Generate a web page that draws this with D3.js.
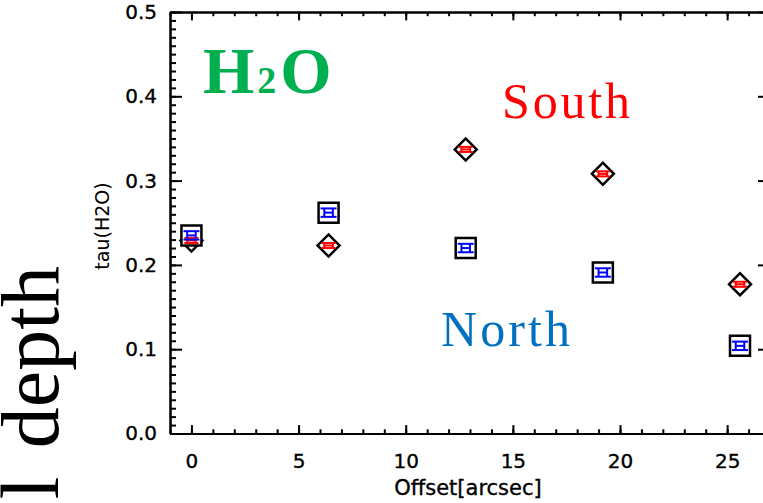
<!DOCTYPE html>
<html>
<head>
<meta charset="utf-8">
<script src="https://cdn.jsdelivr.net/npm/d3@7"></script>
<style>
    body { margin: 0; background: #fff; }
    .axis path, .axis line { stroke: #000; stroke-width: 2; }
    .axis text { font-family: "DejaVu Sans", sans-serif; font-size: 20px; fill: #000; stroke: #000; stroke-width: 0.35; }
</style>
</head>
<body>
<div id="chart"></div>
<script>

// values
let offsets   = [0, 6.4, 12.8, 19.2, 25.6];          // arcsec
let tauNorth  = [0.235, 0.262, 0.220, 0.191, 0.104];
let tauSouth  = [0.229, 0.223, 0.337, 0.308, 0.177];
let errNorth  = [0.005, 0.005, 0.005, 0.005, 0.005];
let errSouth  = [0.003, 0.003, 0.003, 0.003, 0.003];
let errOffset = [0.2, 0.2, 0.2, 0.2, 0.2];

let xTicks = [0, 5, 10, 15, 20, 25];
let yTicks = [0.0, 0.1, 0.2, 0.3, 0.4, 0.5];

let margin = {top: 12, left: 170};
let width = 600, height = 421.5;

let svg = d3.select("#chart").append("svg")
    .attr("width", 763)
    .attr("height", 503)
    .style("display", "block");

svg.append("rect").attr("width", 763).attr("height", 503).attr("fill", "#fff");

let g = svg.append("g")
    .attr("transform", "translate(" + margin.left + "," + margin.top + ")");

// scales
let x = d3.scaleLinear().domain([-1, 27]).range([0, width]);
let y = d3.scaleLinear().domain([0, 0.5]).range([height, 0]);

let xMinor = d3.range(-1, 28, 1);
let yMinor = d3.range(0, 51, 1).map(d => d / 100);

// box axes (IDL style: ticks inward on all four sides)
function addAxis(axis, tx, ty) {
    g.append("g")
        .attr("class", "axis")
        .attr("transform", "translate(" + tx + "," + ty + ")")
        .call(axis);
}

addAxis(d3.axisBottom(x).tickValues(xTicks).tickSize(-8.4).tickSizeOuter(0).tickPadding(20), 0, height);
addAxis(d3.axisBottom(x).tickValues(xMinor).tickSize(-4.2).tickSizeOuter(0).tickFormat(""), 0, height);
addAxis(d3.axisTop(x).tickValues(xTicks).tickSize(-8.4).tickSizeOuter(0).tickFormat(""), 0, 0);
addAxis(d3.axisTop(x).tickValues(xMinor).tickSize(-4.2).tickSizeOuter(0).tickFormat(""), 0, 0);

addAxis(d3.axisLeft(y).tickValues(yTicks).tickSize(-12).tickSizeOuter(0).tickPadding(13).tickFormat(d3.format(".1f")), 0, 0);
addAxis(d3.axisLeft(y).tickValues(yMinor).tickSize(-6).tickSizeOuter(0).tickFormat(""), 0, 0);
addAxis(d3.axisRight(y).tickValues(yTicks).tickSize(-12).tickSizeOuter(0).tickFormat(""), width, 0);
addAxis(d3.axisRight(y).tickValues(yMinor).tickSize(-6).tickSizeOuter(0).tickFormat(""), width, 0);

// axis titles
svg.append("text")
    .attr("x", 468)
    .attr("y", 495)
    .attr("text-anchor", "middle")
    .attr("stroke", "#000")
    .attr("stroke-width", 0.35)
    .style("font-family", "DejaVu Sans, sans-serif")
    .style("font-size", "21px")
    .text("Offset[arcsec]");

svg.append("text")
    .attr("transform", "translate(109,226) rotate(-90)")
    .attr("text-anchor", "middle")
    .style("font-family", "DejaVu Sans, sans-serif")
    .style("font-size", "19px")
    .text("tau(H2O)");

// big label from the slide, cut off at the left edge
svg.append("text")
    .attr("transform", "translate(58,266) rotate(-90)")
    .attr("text-anchor", "end")
    .style("font-family", "Liberation Serif, serif")
    .style("font-size", "82px")
    .style("word-spacing", "8px")
    .text("l depth");

// points
let south = offsets.map((o, i) => ({o: o, v: tauSouth[i], e: errSouth[i], ex: errOffset[i]}));
let north = offsets.map((o, i) => ({o: o, v: tauNorth[i], e: errNorth[i], ex: errOffset[i]}));

let diamond = d3.symbol(d3.symbolSquare, 242);
let square = d3.symbol(d3.symbolSquare, 400);

g.selectAll(".diamond").data(south).enter().append("path")
    .attr("class", "diamond")
    .attr("d", diamond)
    .attr("transform", d => "translate(" + x(d.o) + "," + y(d.v) + ") rotate(45)")
    .attr("fill", "#fff")
    .attr("stroke", "#000")
    .attr("stroke-width", 2.5);

g.selectAll(".square").data(north).enter().append("path")
    .attr("class", "square")
    .attr("d", square)
    .attr("transform", d => "translate(" + x(d.o) + "," + y(d.v) + ")")
    .attr("fill", "#fff")
    .attr("stroke", "#000")
    .attr("stroke-width", 2.5);

// error bars in both directions
function errorBars(data, color, capHalf) {
    let eb = g.append("g").attr("stroke", color).attr("stroke-width", 2);
    data.forEach(d => {
        let cx = x(d.o), cy = y(d.v);
        let yLo = y(d.v - d.e), yHi = y(d.v + d.e);
        let xLo = x(d.o - d.ex), xHi = x(d.o + d.ex);
        eb.append("line").attr("x1", cx - capHalf).attr("x2", cx + capHalf).attr("y1", yHi).attr("y2", yHi);
        eb.append("line").attr("x1", cx - capHalf).attr("x2", cx + capHalf).attr("y1", yLo).attr("y2", yLo);
        eb.append("line").attr("x1", xLo).attr("x2", xHi).attr("y1", cy).attr("y2", cy);
        eb.append("line").attr("x1", xLo).attr("x2", xLo).attr("y1", yLo).attr("y2", yHi);
        eb.append("line").attr("x1", xHi).attr("x2", xHi).attr("y1", yLo).attr("y2", yHi);
    });
}

errorBars(south, "#ff0000", 7);
errorBars(north, "#0000ff", 8);

// annotations
let h2o = svg.append("text")
    .attr("x", 203)
    .attr("y", 93)
    .attr("fill", "#00b050")
    .style("font-family", "Liberation Serif, serif")
    .style("font-weight", "bold")
    .style("font-size", "66px");
h2o.append("tspan").text("H");
h2o.append("tspan").attr("dx", 3).style("font-size", "38px").text("2");
h2o.append("tspan").attr("dx", 4).text("O");

svg.append("text")
    .attr("x", 502)
    .attr("y", 118)
    .attr("fill", "#ff0000")
    .attr("textLength", 128)
    .style("font-family", "Liberation Serif, serif")
    .style("font-size", "50px")
    .text("South");

svg.append("text")
    .attr("x", 441)
    .attr("y", 346)
    .attr("fill", "#0070c0")
    .attr("textLength", 129)
    .style("font-family", "Liberation Serif, serif")
    .style("font-size", "50px")
    .text("North");

</script>
</body>
</html>
